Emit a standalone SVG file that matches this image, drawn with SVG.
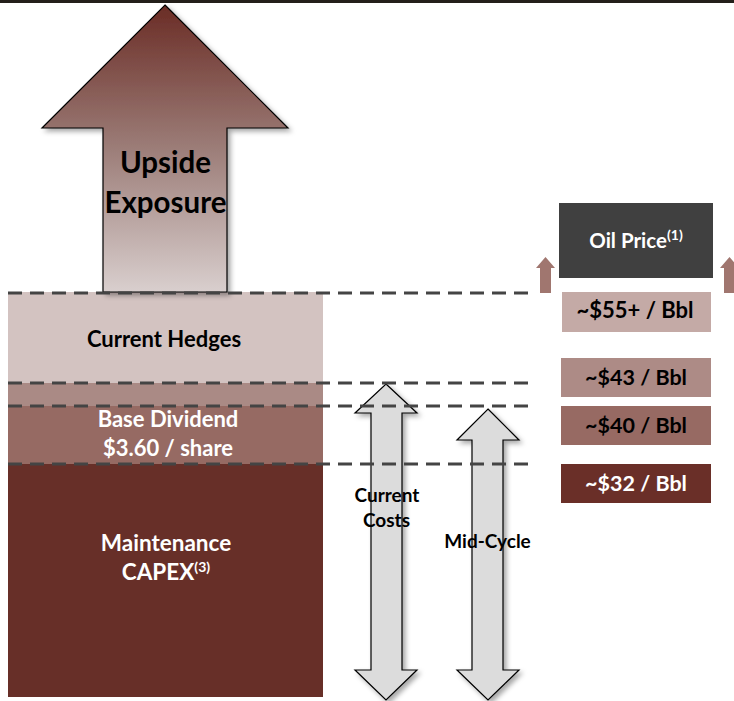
<svg xmlns="http://www.w3.org/2000/svg" width="734" height="701" viewBox="0 0 734 701">
<defs>
<linearGradient id="upg" x1="0" y1="5" x2="0" y2="292" gradientUnits="userSpaceOnUse">
<stop offset="0" stop-color="#6a2c25"/>
<stop offset="0.5" stop-color="#9c7d78"/>
<stop offset="1" stop-color="#d9cfce"/>
</linearGradient>
<filter id="sh" x="-20%" y="-20%" width="140%" height="140%">
<feDropShadow dx="3" dy="3" stdDeviation="2.5" flood-color="#000" flood-opacity="0.35"/>
</filter>
</defs>
<style>
.t{font-family:Lato,"Liberation Sans",sans-serif;font-weight:bold;text-anchor:middle}
.dash{stroke:#444;stroke-width:3;stroke-dasharray:14 8;fill:none}
.dbl{fill:#dcdcdc;stroke:#000;stroke-width:1.2;filter:url(#sh)}
.sup{font-size:14px}
</style>
<rect x="0" y="0" width="734" height="701" fill="#fff"/>
<rect x="0" y="0" width="734" height="3" fill="#231f1a"/>

<g id="layers">
<rect x="8" y="292" width="315" height="91" fill="#d3c3c1"/>
<rect x="8" y="383" width="315" height="23" fill="#aa8a85"/>
<rect x="8" y="406" width="315" height="58" fill="#966a63"/>
<rect x="8" y="464" width="315" height="233" fill="#672f28"/>
</g>

<g id="upside">
<path d="M165,5 L288,128 L227,128 L227,292 L103,292 L103,128 L42,128 Z" fill="url(#upg)" stroke="#000" stroke-width="1.2" filter="url(#sh)"/>
<text class="t" x="165.5" y="173" font-size="29.5">Upside</text>
<text class="t" x="165.5" y="213" font-size="29.5">Exposure</text>
</g>

<g id="arrows">
<path class="dbl" d="M386,384 L417,413 L402,413 L402,670 L417,670 L386,700 L355,670 L371,670 L371,413 L355,413 Z"/>
<path class="dbl" d="M488,409 L519,440 L503,440 L503,670 L519,670 L488,700 L457,670 L472,670 L472,440 L457,440 Z"/>
</g>

<g id="connectors">
<line class="dash" x1="8" y1="293" x2="530" y2="293"/>
<line class="dash" x1="8" y1="383" x2="530" y2="383"/>
<line class="dash" x1="8" y1="406" x2="530" y2="406"/>
<line class="dash" x1="8" y1="464" x2="530" y2="464"/>
</g>

<g id="layer-labels">
<text class="t" x="164" y="347" font-size="22" fill="#000">Current Hedges</text>
<text class="t" x="168" y="427" font-size="22" fill="#fff">Base Dividend</text>
<text class="t" x="168" y="456" font-size="22" fill="#fff">$3.60 / share</text>
<text class="t" x="166" y="551" font-size="22.5" fill="#fff">Maintenance</text>
<text class="t" x="166" y="580" font-size="22.5" fill="#fff">CAPEX<tspan class="sup" dy="-8">(3)</tspan></text>
</g>

<g id="arrow-labels">
<text class="t" x="387" y="502" font-size="19" fill="#000">Current</text>
<text class="t" x="386.5" y="527" font-size="19" fill="#000">Costs</text>
<text class="t" x="487.5" y="548" font-size="19" fill="#000">Mid-Cycle</text>
</g>

<g id="oil-price">
<rect x="559" y="203" width="154" height="75" fill="#404040"/>
<text class="t" x="636" y="248" font-size="20.5" fill="#fff">Oil Price<tspan class="sup" dy="-8">(1)</tspan></text>
</g>

<g id="small-arrows">
<path d="M545.5,257 L555,268 L551,268 L551,293 L540,293 L540,268 L536,268 Z" fill="#a0766f"/>
<path d="M729.5,257 L739,268 L735,268 L735,293 L724,293 L724,268 L720,268 Z" fill="#a0766f"/>
</g>

<g id="p55">
<rect x="562" y="292" width="149" height="40" fill="#c4aaa6"/>
<text class="t" x="635" y="318" font-size="22" fill="#000">~$55+ / Bbl</text>
</g>
<g id="p43">
<rect x="561" y="358" width="150" height="39" fill="#ad8b86"/>
<text class="t" x="636" y="385" font-size="21.5" fill="#000">~$43 / Bbl</text>
</g>
<g id="p40">
<rect x="561" y="406" width="150" height="39" fill="#976a63"/>
<text class="t" x="636" y="433" font-size="21.5" fill="#000">~$40 / Bbl</text>
</g>
<g id="p32">
<rect x="561" y="464" width="150" height="39" fill="#6a2f28"/>
<text class="t" x="636" y="491" font-size="21.5" fill="#fff">~$32 / Bbl</text>
</g>
</svg>
